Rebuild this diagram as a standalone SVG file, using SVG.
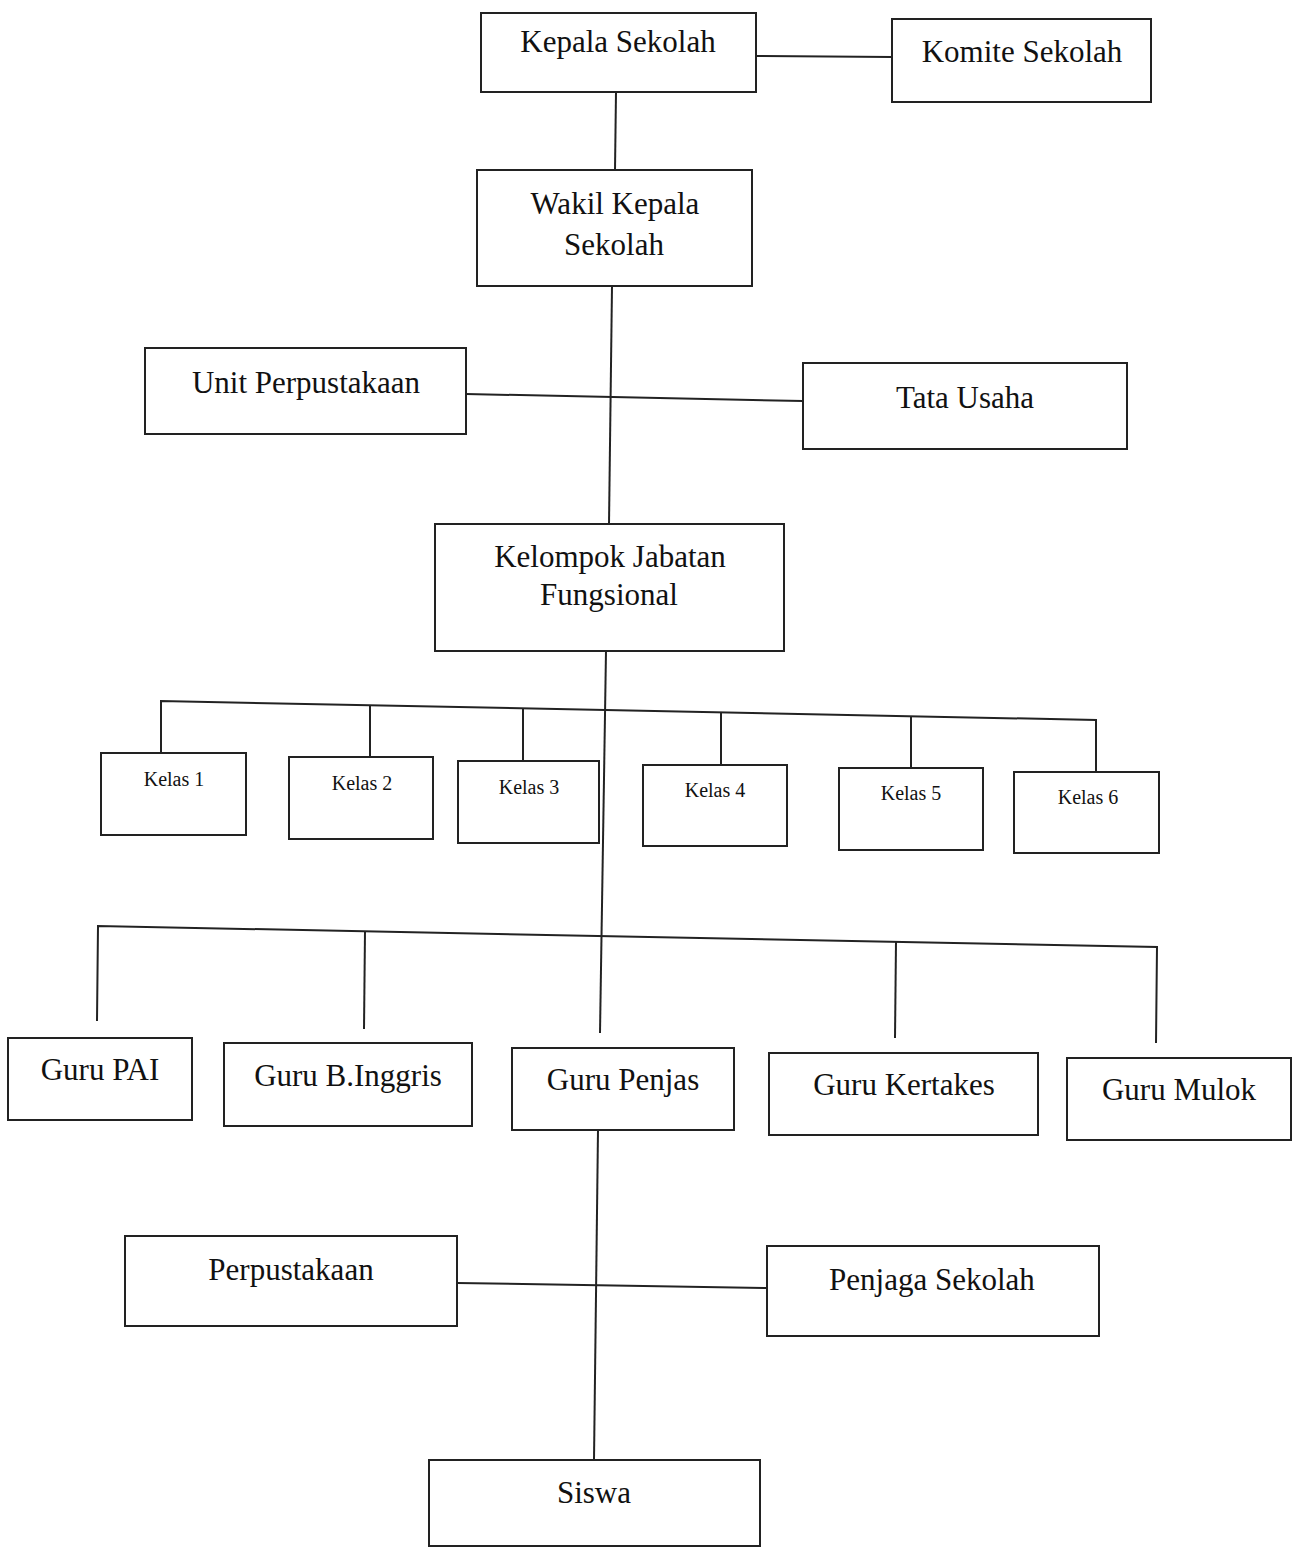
<svg xmlns="http://www.w3.org/2000/svg" width="1300" height="1547" viewBox="0 0 1300 1547">
<style>
.b{fill:#fff;stroke:#222;stroke-width:2}
.c line,.c polyline{stroke:#222;stroke-width:2;fill:none}
.t{font-family:"Liberation Serif","Times New Roman",serif;font-size:31px;fill:#111;text-anchor:middle}
.k{font-family:"Liberation Serif","Times New Roman",serif;font-size:20px;fill:#111;text-anchor:middle}
</style>
<rect width="1300" height="1547" fill="#fff"/>
<g class="c" id="connectors">
<line x1="756" y1="56" x2="892" y2="57"/>
<line x1="616" y1="92" x2="615" y2="170"/>
<line x1="612" y1="286" x2="609" y2="524"/>
<line x1="466" y1="394" x2="803" y2="401"/>
<line x1="606" y1="651" x2="600" y2="1033"/>
<polyline points="161,753 161,701 1096,720 1096,773"/>
<line x1="370" y1="705" x2="370" y2="756"/>
<line x1="523" y1="708" x2="523" y2="760"/>
<line x1="721" y1="712" x2="721" y2="765"/>
<line x1="911" y1="716" x2="911" y2="768"/>
<polyline points="97,1021 98,926 1157,947 1156,1043"/>
<line x1="365" y1="931" x2="364" y2="1029"/>
<line x1="896" y1="942" x2="895" y2="1038"/>
<line x1="598" y1="1130" x2="594" y2="1460"/>
<line x1="457" y1="1283" x2="767" y2="1288"/>
</g>
<g id="kepala"><rect class="b" x="481" y="13" width="275" height="79"/><text class="t" x="618" y="52">Kepala Sekolah</text></g>
<g id="komite"><rect class="b" x="892" y="19" width="259" height="83"/><text class="t" x="1022" y="62">Komite Sekolah</text></g>
<g id="wakil"><rect class="b" x="477" y="170" width="275" height="116"/><text class="t" x="615" y="214">Wakil Kepala</text><text class="t" x="614" y="255">Sekolah</text></g>
<g id="unit"><rect class="b" x="145" y="348" width="321" height="86"/><text class="t" x="306" y="393">Unit Perpustakaan</text></g>
<g id="tata"><rect class="b" x="803" y="363" width="324" height="86"/><text class="t" x="965" y="408">Tata Usaha</text></g>
<g id="kelompok"><rect class="b" x="435" y="524" width="349" height="127"/><text class="t" x="610" y="567">Kelompok Jabatan</text><text class="t" x="609" y="605">Fungsional</text></g>
<g id="kelas1"><rect class="b" x="101" y="753" width="145" height="82"/><text class="k" x="174" y="786">Kelas 1</text></g>
<g id="kelas2"><rect class="b" x="289" y="757" width="144" height="82"/><text class="k" x="362" y="790">Kelas 2</text></g>
<g id="kelas3"><rect class="b" x="458" y="761" width="141" height="82"/><text class="k" x="529" y="794">Kelas 3</text></g>
<g id="kelas4"><rect class="b" x="643" y="765" width="144" height="81"/><text class="k" x="715" y="797">Kelas 4</text></g>
<g id="kelas5"><rect class="b" x="839" y="768" width="144" height="82"/><text class="k" x="911" y="800">Kelas 5</text></g>
<g id="kelas6"><rect class="b" x="1014" y="772" width="145" height="81"/><text class="k" x="1088" y="804">Kelas 6</text></g>
<g id="gurupai"><rect class="b" x="8" y="1038" width="184" height="82"/><text class="t" x="100" y="1080">Guru PAI</text></g>
<g id="guruinggris"><rect class="b" x="224" y="1043" width="248" height="83"/><text class="t" x="348" y="1086">Guru B.Inggris</text></g>
<g id="gurupenjas"><rect class="b" x="512" y="1048" width="222" height="82"/><text class="t" x="623" y="1090">Guru Penjas</text></g>
<g id="gurukertakes"><rect class="b" x="769" y="1053" width="269" height="82"/><text class="t" x="904" y="1095">Guru Kertakes</text></g>
<g id="gurumulok"><rect class="b" x="1067" y="1058" width="224" height="82"/><text class="t" x="1179" y="1100">Guru Mulok</text></g>
<g id="perpustakaan"><rect class="b" x="125" y="1236" width="332" height="90"/><text class="t" x="291" y="1280">Perpustakaan</text></g>
<g id="penjaga"><rect class="b" x="767" y="1246" width="332" height="90"/><text class="t" x="932" y="1290">Penjaga Sekolah</text></g>
<g id="siswa"><rect class="b" x="429" y="1460" width="331" height="86"/><text class="t" x="594" y="1503">Siswa</text></g>
</svg>
